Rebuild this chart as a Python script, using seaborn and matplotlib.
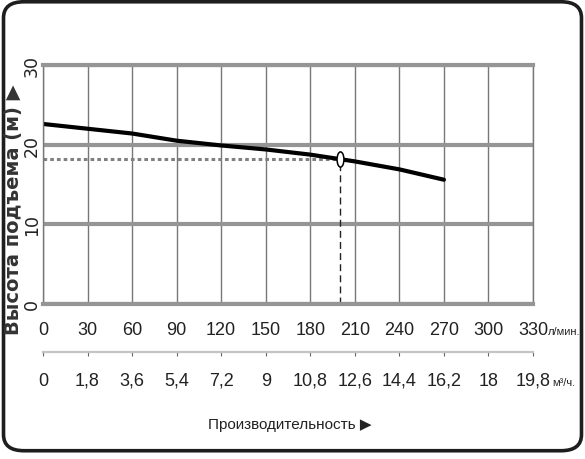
import matplotlib
matplotlib.use("Agg")
import matplotlib.pyplot as plt
import pandas as pd
import seaborn as sns
from matplotlib.markers import MarkerStyle
from matplotlib.patches import FancyBboxPatch
from matplotlib.transforms import Affine2D

# Характеристика насоса
flow_lpm = [0, 30, 60, 90, 120, 150, 180, 210, 240, 270]
head_m = [22.6, 22.0, 21.4, 20.5, 19.9, 19.4, 18.75, 17.9, 16.9, 15.6]

# Рабочая точка
duty_flow = [200]
duty_head = [18.2]

# Подписи осей
x_ticks_lpm = [0, 30, 60, 90, 120, 150, 180, 210, 240, 270, 300, 330]
x_labels_lpm = ["0", "30", "60", "90", "120", "150", "180", "210", "240", "270", "300", "330"]
x_labels_m3h = ["0", "1,8", "3,6", "5,4", "7,2", "9", "10,8", "12,6", "14,4", "16,2", "18", "19,8"]
y_ticks = [0, 10, 20, 30]
y_labels = ["0", "10", "20", "30"]

sns.set_style("white")
plt.rcParams["font.family"] = ["Liberation Sans", "DejaVu Sans"]

df = pd.DataFrame({"Расход": flow_lpm, "Напор": head_m})
duty = pd.DataFrame({"Расход": duty_flow, "Напор": duty_head})

fig = plt.figure(figsize=(5.85, 4.60), dpi=100)
ax = fig.add_axes([43 / 585, 1 - 305 / 460, 490 / 585, 239 / 460])

# Сетка
ax.set_xlim(0, 330)
ax.set_ylim(0, 30)
ax.set_xticks(x_ticks_lpm, x_labels_lpm)
ax.set_yticks(y_ticks, y_labels)
ax.xaxis.grid(True, color="#777777", lw=1.0)
ax.yaxis.grid(True, color="#959595", lw=3.0)
for s in ["top", "bottom"]:
    ax.spines[s].set_color("#959595")
    ax.spines[s].set_linewidth(3.0)
for s in ["left", "right"]:
    ax.spines[s].set_color("#777777")
    ax.spines[s].set_linewidth(1.0)
ax.set_axisbelow(True)

# Вспомогательные линии рабочей точки
ax.hlines(duty_head, 0, duty_flow, colors="#808080", linestyles=(0, (1.2, 1.0)), lw=2.2)
ax.vlines(duty_flow, 0, duty_head, colors="#222222", linestyles=(0, (5, 3)), lw=1.0)

# Кривая
sns.lineplot(data=df, x="Расход", y="Напор", color="black", lw=3.0, ax=ax)
oval = MarkerStyle("o", transform=Affine2D().scale(0.45, 1.0))
sns.scatterplot(data=duty, x="Расход", y="Напор", marker=oval, s=120,
                color="white", edgecolor="black", linewidth=1.1, zorder=5, ax=ax)
ax.set_xlabel("")
ax.set_ylabel("")

ax.tick_params(axis="x", length=0, pad=12, labelsize=13, labelcolor="#222222")
ax.tick_params(axis="y", length=0, pad=1.5, labelsize=12.5, labelcolor="#222222")
for t in ax.get_yticklabels():
    t.set_rotation(90)
    t.set_va("center")
    t.set_family("DejaVu Sans")

# Вторая шкала: м³/ч
sec = ax.secondary_xaxis(-0.2)
sec.set_ticks(x_ticks_lpm, labels=x_labels_m3h)
sec.spines["bottom"].set_color("#c4c4c4")
sec.spines["bottom"].set_linewidth(1.6)
sec.tick_params(length=3, width=0.8, color="#666666", pad=11.5, labelsize=13, labelcolor="#222222")

# Единицы измерения
ax.annotate("л/мин.", xy=(330, 0), xytext=(15, -30), textcoords="offset pixels",
            ha="left", va="baseline", fontsize=8, color="#222222")
ax.annotate("м³/ч.", xy=(330, 0), xytext=(19, -81), textcoords="offset pixels",
            ha="left", va="baseline", fontsize=8, color="#222222")

# Подписи осей
fig.text(290 / 585, 1 - 425 / 460, "Производительность ▶", ha="center", va="center",
         fontsize=11, color="#222222")
fig.text(14 / 585, 1 - 210 / 460, "Высота подъема (м) ▶", rotation=90, ha="center", va="center",
         fontsize=14, fontweight="bold", color="#333333", family=["DejaVu Sans"])

# Рамка
frame = FancyBboxPatch((0.006, 0.018), 0.988, 0.976, boxstyle="round,pad=0,rounding_size=0.035",
                       transform=fig.transFigure, fill=False, lw=2.6, ec="#1e1e1e", clip_on=False)
fig.patches.append(frame)

fig.savefig("out.png", dpi=100, facecolor="white")
